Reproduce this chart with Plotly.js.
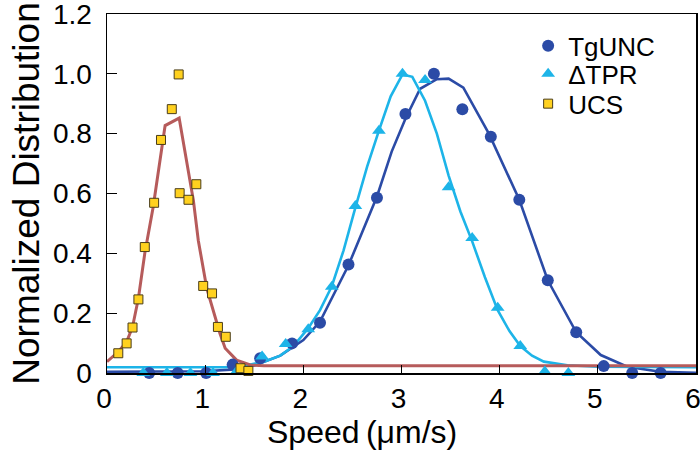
<!DOCTYPE html>
<html>
<head>
<meta charset="utf-8">
<script src="https://cdn.plot.ly/plotly-3.0.1.min.js"></script>
<style>html,body{margin:0;padding:0;background:#fff;}#chart{width:700px;height:461px;}</style>
</head>
<body>
<div id="chart"></div>
<script>
// ---- data ----
const tgUncX = [0.43, 0.72, 1.01, 1.28, 1.56, 1.885, 2.17, 2.46, 2.75, 3.04, 3.33, 3.62, 3.91, 4.20, 4.49, 4.78, 5.06, 5.35, 5.64];
const tgUncY = [0, 0, 0, 0.028, 0.049, 0.099, 0.168, 0.363, 0.586, 0.866, 1.0, 0.882, 0.79, 0.579, 0.31, 0.136, 0.023, 0, 0];

const tprX = [0.37, 0.61, 0.85, 1.08, 1.32, 1.58, 1.82, 2.05, 2.29, 2.53, 2.77, 3.01, 3.24, 3.48, 3.72, 3.98, 4.21, 4.46, 4.70];
const tprY = [0, 0, 0, 0, 0.005, 0.055, 0.097, 0.146, 0.288, 0.558, 0.81, 1.0, 0.979, 0.621, 0.451, 0.218, 0.09, 0.005, 0.0];

const ucsX = [0.115, 0.20, 0.26, 0.32, 0.385, 0.48, 0.55, 0.66, 0.73, 0.74, 0.83, 0.91, 0.98, 1.07, 1.13, 1.21, 1.36, 1.44];
const ucsY = [0.066, 0.099, 0.152, 0.246, 0.421, 0.569, 0.779, 0.882, 0.998, 0.601, 0.579, 0.631, 0.291, 0.266, 0.154, 0.121, 0.016, 0.007];

// fitted curves
const tgFitX = [0, 1.0, 1.3, 1.5, 1.765, 2.0, 2.17, 2.46, 2.75, 2.9, 3.04, 3.19, 3.36, 3.48, 3.63, 3.89, 4.20, 4.49, 4.78, 5.03, 5.30, 5.64, 6.0];
const tgFitY = [0.004, 0.006, 0.012, 0.025, 0.058, 0.11, 0.172, 0.36, 0.59, 0.74, 0.85, 0.95, 0.982, 0.984, 0.954, 0.80, 0.579, 0.31, 0.136, 0.06, 0.021, 0.004, 0.001];

const tprFitX = [0, 1.2, 1.4, 1.6, 1.765, 1.9, 2.05, 2.17, 2.29, 2.41, 2.53, 2.65, 2.77, 2.89, 3.01, 3.11, 3.24, 3.36, 3.48, 3.6, 3.72, 3.85, 3.98, 4.1, 4.21, 4.33, 4.45, 4.69, 5.0, 6.0];
const tprFitY = [0.019, 0.019, 0.024, 0.038, 0.058, 0.09, 0.15, 0.21, 0.29, 0.41, 0.553, 0.69, 0.81, 0.925, 0.998, 0.99, 0.91, 0.80, 0.66, 0.54, 0.44, 0.32, 0.21, 0.14, 0.09, 0.058, 0.038, 0.026, 0.021, 0.019];

const ucsFitX = [0, 0.115, 0.20, 0.26, 0.32, 0.385, 0.47, 0.55, 0.592, 0.735, 0.88, 0.93, 1.017, 1.15, 1.204, 1.32, 1.46, 1.6, 2.0, 6.0];
const ucsFitY = [0.038, 0.071, 0.104, 0.154, 0.25, 0.40, 0.554, 0.743, 0.827, 0.852, 0.577, 0.443, 0.282, 0.133, 0.083, 0.043, 0.027, 0.024, 0.024, 0.024];

const yTickVals = [0, 0.2, 0.4, 0.6, 0.8, 1.0, 1.2];
const yTickText = ['0', '0.2', '0.4', '0.6', '0.8', '1.0', '1.2'];
const xTickVals = [0, 1, 2, 3, 4, 5, 6];

const seriesNames = ['TgUNC', '\u0394TPR', 'UCS'];
const xTitle = 'Speed\u2009(\u03bcm/s)';
const yTitle = 'Normalized Distribution';

// ---- styles ----
const darkBlue = '#2B4BA6';
const lightBlue = '#1DB4E8';
const gold = '#FFD11F';
const goldEdge = '#4a3d1a';
const red = '#B65B5B';
const FONT = 'Liberation Sans, Arial, sans-serif';

const traces = [
  {x: tgFitX, y: tgFitY, mode: 'lines', line: {color: darkBlue, width: 2.6}, showlegend: false, hoverinfo: 'skip'},
  {x: tprFitX, y: tprFitY, mode: 'lines', line: {color: lightBlue, width: 2.6}, showlegend: false, hoverinfo: 'skip'},
  {x: ucsFitX, y: ucsFitY, mode: 'lines', line: {color: red, width: 3}, showlegend: false, hoverinfo: 'skip'},
  {x: tgUncX, y: tgUncY, mode: 'markers', name: seriesNames[0], legend: 'legend',
   marker: {symbol: 'circle', size: 12, color: darkBlue}, cliponaxis: false},
  {x: tprX, y: tprY, mode: 'markers', name: seriesNames[1], legend: 'legend2',
   marker: {symbol: 'triangle-up', size: 12, color: lightBlue}, cliponaxis: false},
  {x: ucsX, y: ucsY, mode: 'markers', name: seriesNames[2], legend: 'legend3',
   marker: {symbol: 'square', size: 9, color: gold, line: {color: goldEdge, width: 1}}, cliponaxis: false}
];

function leg(y) {
  return {x: 0.715, y: y, xanchor: 'left', yanchor: 'middle', bgcolor: 'rgba(0,0,0,0)',
          font: {family: FONT, size: 26, color: '#000'}, itemwidth: 30};
}

const layout = {
  width: 700, height: 461,
  margin: {l: 107, r: 4, t: 14, b: 88},
  paper_bgcolor: '#fff', plot_bgcolor: '#fff',
  font: {family: FONT, color: '#000'},
  xaxis: {
    range: [0, 6], tickvals: xTickVals, ticks: 'inside', ticklen: 8, tickwidth: 1.2, tickcolor: '#000',
    showline: true, linecolor: '#000', linewidth: 1.5, mirror: true, showgrid: false, zeroline: false,
    tickfont: {family: FONT, size: 28, color: '#000'}, ticklabeloverflow: 'allow', ticklabelshift: -3
  },
  yaxis: {
    range: [0, 1.2], tickvals: yTickVals, ticktext: yTickText, ticks: 'inside', ticklen: 10, tickwidth: 1.2, tickcolor: '#000',
    showline: true, linecolor: '#000', linewidth: 1.5, mirror: true, showgrid: false, zeroline: false,
    tickfont: {family: FONT, size: 28, color: '#000'}, ticklabelstandoff: 8, ticklabeloverflow: 'allow',
    title: {text: yTitle, font: {family: FONT, size: 37, color: '#000'}, standoff: 2}
  },
  annotations: [
    {text: xTitle, xref: 'paper', yref: 'paper', x: 0.433, y: -0.164, xanchor: 'center', yanchor: 'middle',
     showarrow: false, font: {family: FONT, size: 32, color: '#000'}}
  ],
  legend: leg(0.911),
  legend2: leg(0.833),
  legend3: leg(0.75),
  showlegend: true
};

Plotly.newPlot('chart', traces, layout, {displayModeBar: false, staticPlot: true});
</script>
</body>
</html>
